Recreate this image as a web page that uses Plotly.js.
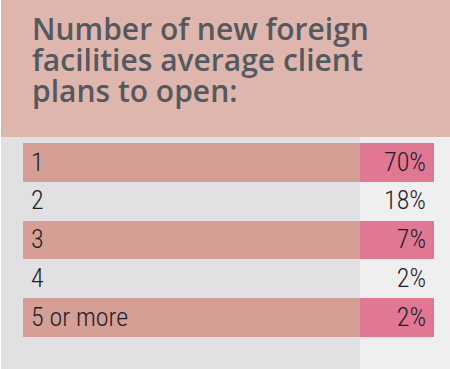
<!DOCTYPE html>
<html><head><meta charset="utf-8">
<script src="https://cdn.plot.ly/plotly-3.0.1.min.js"></script>
<style>html,body{margin:0;padding:0;background:#e1e1e3;}#chart{width:450px;height:369px;}</style>
</head><body><div id="chart"></div>
<script>
const titleLines = ["Number of new foreign", "facilities average client", "plans to open:"];
const categories = ["1", "2", "3", "4", "5 or more"];
const values = [70, 18, 7, 2, 2];
const highlighted = [true, false, true, false, true];

const W = 450, H = 369;
const labelFill = highlighted.map(h => h ? "#d59f96" : "rgba(0,0,0,0)");
const valueFill = highlighted.map(h => h ? "#e07893" : "rgba(0,0,0,0)");

const trace = {
  type: "table",
  domain: {x: [23 / W, 434 / W], y: [1 - 337 / H, 1 - 127 / H]},
  columnwidth: [337, 74],
  header: {values: [], height: 0, line: {width: 0}, fill: {color: "rgba(0,0,0,0)"}},
  cells: {
    values: [categories, values.map(v => v + "%")],
    align: ["left", "right"],
    height: 38.8,
    line: {width: 0, color: "rgba(0,0,0,0)"},
    fill: {color: [labelFill, valueFill]},
    font: {family: "Roboto Condensed, sans-serif", size: 26, color: "#1e1e28", weight: 300}
  }
};

const annotations = titleLines.map((t, i) => ({
  text: t, xref: "paper", yref: "paper", x: 30 / W, y: 1 - (51 + i * 31) / H,
  xanchor: "left", yanchor: "bottom", showarrow: false,
  font: {family: "Open Sans, sans-serif", size: 30, color: "#55595e", weight: 600}
}));

const layout = {
  width: W, height: H,
  margin: {l: 0, r: 0, t: 0, b: 0},
  paper_bgcolor: "#e1e1e3",
  plot_bgcolor: "rgba(0,0,0,0)",
  showlegend: false,
  shapes: [
    {type: "rect", xref: "paper", yref: "paper", x0: 0, x1: 1, y0: 1 - 137 / H, y1: 1, fillcolor: "#deb6ae", line: {width: 0}, layer: "below"},
    {type: "rect", xref: "paper", yref: "paper", x0: 360 / W, x1: 1, y0: 0, y1: 1 - 137 / H, fillcolor: "#efefef", line: {width: 0}, layer: "below"},
    {type: "rect", xref: "paper", yref: "paper", x0: 0, x1: 1 / W, y0: 0, y1: 1, fillcolor: "#ffffff", line: {width: 0}, layer: "below"}
  ],
  annotations: annotations
};

Plotly.newPlot("chart", [trace], layout, {displayModeBar: false, staticPlot: true});
</script></body></html>
